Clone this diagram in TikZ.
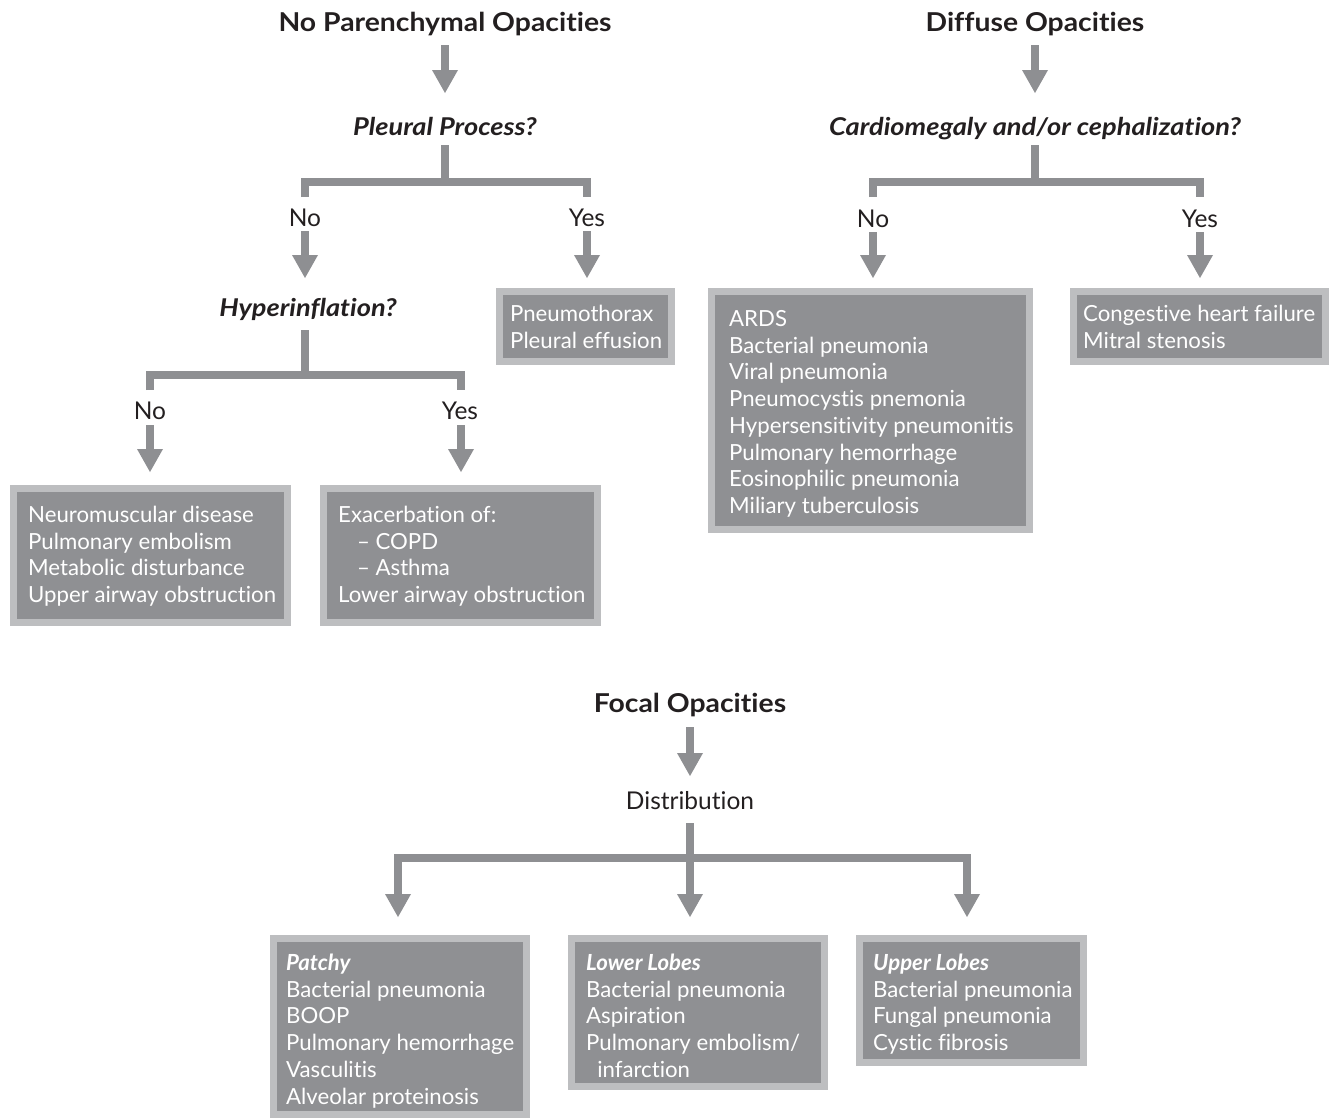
\documentclass[tikz,border=0pt]{standalone}
\usepackage{fontspec}
\setmainfont{Lato}[Ligatures={NoCommon}]
\usetikzlibrary{arrows.meta}

\definecolor{linegray}{HTML}{8E8F92}
\definecolor{boxfill}{HTML}{8F9093}
\definecolor{boxedge}{HTML}{BDBEC0}
\definecolor{ink}{HTML}{231F20}

% stacked lines whose node baseline is the first line
\newcommand{\rows}[1]{\begin{tabular}[t]{@{}l@{}}#1\end{tabular}}
% slightly widened lettering for headings and questions
\newcommand{\headtxt}[1]{\scalebox{1.09}[1]{#1}}
\newcommand{\asktxt}[1]{\scalebox{1.11}[1]{#1}}

\tikzset{
  title/.style={font=\fontsize{26}{30}\selectfont\bfseries, text=ink, anchor=base, inner sep=0pt},
  question/.style={font=\fontsize{24.5}{29}\selectfont\bfseries\itshape, text=ink, anchor=base, inner sep=0pt},
  answer/.style={font=\fontsize{24.5}{29}\selectfont, text=ink, anchor=base, inner sep=0pt},
  box/.style={draw=boxedge, fill=boxfill, line width=7pt, inner sep=0pt, anchor=north west},
  boxtext/.style={font=\fontsize{22.2}{26.7}\selectfont, text=white, anchor=base west, inner sep=0pt},
  conn/.style={draw=linegray, line width=8pt, line join=miter},
  fat/.style={draw=linegray, line width=8.5pt, line join=miter,
    -{Triangle[width=26pt,length=23pt,line width=0pt]}},
}

% outer box: name, left, top, right, bottom (outer edges of the frame)
\newcommand{\panel}[5]{%
  \node[box, minimum width={#4-#2-7pt}, minimum height={#5-#3-7pt}] (#1) at (#2,#3) {};}

\begin{document}
\begin{tikzpicture}[x=1pt,y=-1pt]
\useasboundingbox (0,0) rectangle (1329,1119);

%% ---------- No parenchymal opacities ----------
\node[title] (t1) at (445,31) {\headtxt{No Parenchymal Opacities}};
\coordinate (t1a) at (445,45);
\coordinate (t1b) at (445,93);
\draw[fat] (t1a) -- (t1b);
\node[question] (q1) at (445,135) {\asktxt{Pleural Process?}};

\coordinate (q1s) at (445,145);
\coordinate (q1j) at (445,182);
\coordinate (q1l) at (305,197);
\coordinate (q1r) at (587,197);
\draw[conn] (q1s) -- (q1j);
\draw[conn] (q1l) |- (q1j) -| (q1r);

\node[answer] (q1no) at (305,226) {No};
\node[answer] (q1yes) at (587,226) {Yes};
\coordinate (q1noa) at (305,231);
\coordinate (q1nob) at (305,278);
\coordinate (q1yesa) at (587,231);
\coordinate (q1yesb) at (587,278);
\draw[fat] (q1noa) -- (q1nob);
\draw[fat] (q1yesa) -- (q1yesb);

\panel{pleu}{496}{288}{675}{365}
\node[boxtext] (pleutx) at (510,321.5) {\rows{Pneumothorax\\Pleural effusion}};

\node[question] (q3) at (308,316) {\asktxt{Hyperinflation?}};
\coordinate (q3s) at (305,330);
\coordinate (q3j) at (305,375);
\coordinate (q3l) at (150,390);
\coordinate (q3r) at (461,390);
\draw[conn] (q3s) -- (q3j);
\draw[conn] (q3l) |- (q3j) -| (q3r);

\node[answer] (q3no) at (150,419) {No};
\node[answer] (q3yes) at (460,419) {Yes};
\coordinate (q3noa) at (150,425);
\coordinate (q3nob) at (150,472);
\coordinate (q3yesa) at (461,425);
\coordinate (q3yesb) at (461,472);
\draw[fat] (q3noa) -- (q3nob);
\draw[fat] (q3yesa) -- (q3yesb);

\panel{neuro}{10}{485}{291}{626}
\node[boxtext] (neurotx) at (28,522.5)
  {\rows{Neuromuscular disease\\Pulmonary embolism\\Metabolic disturbance\\Upper airway obstruction}};

\panel{exac}{320}{485}{601}{626}
\node[boxtext] (exactx) at (338,522.5)
  {\rows{Exacerbation of:\\\hspace*{0.85em}– COPD\\\hspace*{0.85em}– Asthma\\Lower airway obstruction}};

%% ---------- Diffuse opacities ----------
\node[title] (t2) at (1035,31) {\headtxt{Diffuse Opacities}};
\coordinate (t2a) at (1035,45);
\coordinate (t2b) at (1035,93);
\draw[fat] (t2a) -- (t2b);
\node[question] (q2) at (1035,135) {\asktxt{Cardiomegaly and/or cephalization?}};

\coordinate (q2s) at (1035,145);
\coordinate (q2j) at (1035,182);
\coordinate (q2l) at (873,197);
\coordinate (q2r) at (1200,197);
\draw[conn] (q2s) -- (q2j);
\draw[conn] (q2l) |- (q2j) -| (q2r);

\node[answer] (q2no) at (873,227) {No};
\node[answer] (q2yes) at (1200,227) {Yes};
\coordinate (q2noa) at (873,232);
\coordinate (q2nob) at (873,278);
\coordinate (q2yesa) at (1200,232);
\coordinate (q2yesb) at (1200,278);
\draw[fat] (q2noa) -- (q2nob);
\draw[fat] (q2yesa) -- (q2yesb);

\panel{ards}{708}{288}{1033}{533}
\node[boxtext] (ardstx) at (729,326.5)
  {\rows{ARDS\\Bacterial pneumonia\\Viral pneumonia\\Pneumocystis pnemonia\\Hypersensitivity pneumonitis\\Pulmonary hemorrhage\\Eosinophilic pneumonia\\Miliary tuberculosis}};

\panel{chf}{1070}{288}{1329}{365}
\node[boxtext] (chftx) at (1083,321.5) {\rows{Congestive heart failure\\Mitral stenosis}};

%% ---------- Focal opacities ----------
\node[title] (t3) at (690,712) {\headtxt{Focal Opacities}};
\coordinate (t3a) at (690,727);
\coordinate (t3b) at (690,776);
\draw[fat] (t3a) -- (t3b);
\node[answer] (q4) at (690,809) {Distribution};

\coordinate (q4s) at (690,823);
\coordinate (q4j) at (690,858);
\coordinate (q4l) at (398,917);
\coordinate (q4m) at (690,917);
\coordinate (q4r) at (967,917);
\draw[fat] (q4s) -- (q4m);
\draw[fat] (q4j) -| (q4l);
\draw[fat] (q4j) -| (q4r);

\panel{patchy}{270}{935}{530}{1118}
\node[boxtext] (patchytx) at (286,970.5)
  {\rows{\textbf{\textit{Patchy}}\\Bacterial pneumonia\\BOOP\\Pulmonary hemorrhage\\Vasculitis\\Alveolar proteinosis}};

\panel{lower}{568}{935}{828}{1090}
\node[boxtext] (lowertx) at (586,970.5)
  {\rows{\textbf{\textit{Lower Lobes}}\\Bacterial pneumonia\\Aspiration\\Pulmonary embolism/\\\hspace*{0.5em}infarction}};

\panel{upper}{856}{935}{1087}{1066}
\node[boxtext] (uppertx) at (873,970.5)
  {\rows{\textbf{\textit{Upper Lobes}}\\Bacterial pneumonia\\Fungal pneumonia\\Cystic fibrosis}};

\end{tikzpicture}
\end{document}
